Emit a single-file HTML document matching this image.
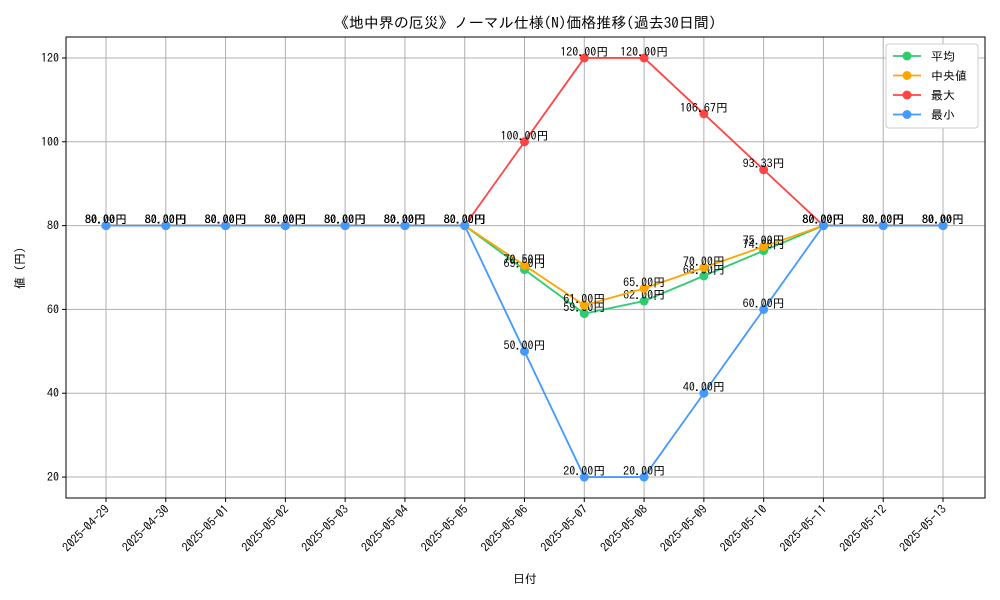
<!DOCTYPE html>
<html><head><meta charset="utf-8"><style>
body{margin:0;background:#fff}
svg{display:block;font-family:"IPAGothic","Noto Sans CJK JP",monospace}
</style></head><body>
<svg id="chart" width="1000" height="600">
<text x="525" y="28" text-anchor="middle" font-size="15">《地中界の厄災》ノーマル仕様(N)価格推移(過去30日間)</text>
<g id="grid"></g><g id="axes"></g><g id="series"></g>
<text x="525" y="583" text-anchor="middle" font-size="12">日付</text>
<text x="24" y="268" text-anchor="middle" font-size="12" transform="rotate(-90 24 268)">値 (円)</text>
<g id="legend"></g>
</svg>
<script>
const dates=["2025-04-29","2025-04-30","2025-05-01","2025-05-02","2025-05-03","2025-05-04","2025-05-05","2025-05-06","2025-05-07","2025-05-08","2025-05-09","2025-05-10","2025-05-11","2025-05-12","2025-05-13"];
const avgVals=[80,80,80,80,80,80,80,69.5,59,62,68,74,80,80,80];
const medVals=[80,80,80,80,80,80,80,70.5,61,65,70,75,80,80,80];
const maxVals=[80,80,80,80,80,80,80,100,120,120,106.67,93.33,80,80,80];
const minVals=[80,80,80,80,80,80,80,50,20,20,40,60,80,80,80];
const yTicks=[20,40,60,80,100,120];
const seriesNames=["平均","中央値","最大","最小"];
const NS="http://www.w3.org/2000/svg";
const L=66,R=985,T=37,B=498;
const X=i=>106+(943-106)*i/(dates.length-1);
const Y=v=>B-(v-15)/(125-15)*(B-T);
function mk(p,t,a){const e=document.createElementNS(NS,t);for(const k in a)e.setAttribute(k,a[k]);p.appendChild(e);return e;}
const grid=document.getElementById('grid'),axes=document.getElementById('axes'),ser=document.getElementById('series'),leg=document.getElementById('legend');
dates.forEach((d,i)=>{
  const g=mk(grid,'line',{x1:X(i),x2:X(i),y1:T,y2:B,stroke:'#b0b0b0','stroke-width':1});
  
  
  mk(axes,'line',{x1:X(i),x2:X(i),y1:B,y2:B+4,stroke:'#000'});
  const t=mk(axes,'text',{x:X(i)+4,y:B+12,'font-size':12,'text-anchor':'end',transform:`rotate(-45 ${X(i)+4} ${B+12})`});
  t.textContent=d;
  
  
});
yTicks.forEach(v=>{
  const g=mk(grid,'line',{x1:L,x2:R,y1:Y(v),y2:Y(v),stroke:'#b0b0b0','stroke-width':1});
  
  
  mk(axes,'line',{x1:L-4,x2:L,y1:Y(v),y2:Y(v),stroke:'#000'});
  const t=mk(axes,'text',{x:L-7,y:Y(v)+4,'font-size':12,'text-anchor':'end'});
  t.textContent=v;
  
  
});
const fr=mk(axes,'rect',{x:L,y:T,width:R-L,height:B-T,fill:'none',stroke:'#000','stroke-width':1});


const all=[avgVals,medVals,maxVals,minVals];
const colors=['#2ecc71','#ffa500','#ff4444','#4499ff'];
const keys=['avg','median','max','min'];
all.forEach((vals,s)=>{
  const g=mk(ser,'g',{});
  
  
  const pl=mk(g,'polyline',{points:vals.map((v,i)=>X(i)+','+Y(v)).join(' '),fill:'none',stroke:colors[s],'stroke-width':1.8});
  
  
  vals.forEach((v,i)=>{
    const c=mk(g,'circle',{cx:X(i),cy:Y(v),r:4.5,fill:colors[s]});
    
    
    const t=mk(g,'text',{x:X(i),y:Y(v)-2,'font-size':12,'text-anchor':'middle'});
    t.textContent=v.toFixed(2)+'円';
    
    
  });
});
const lb=mk(leg,'rect',{x:886,y:44,width:92,height:84,fill:'#fff',stroke:'#ccc',rx:3});


seriesNames.forEach((n,s)=>{
  const y=56+s*19.5;
  const e=mk(leg,'g',{});
  
  
  mk(e,'line',{x1:893,x2:921,y1:y,y2:y,stroke:colors[s],'stroke-width':1.8});
  mk(e,'circle',{cx:907,cy:y,r:4.5,fill:colors[s]});
  const t=mk(e,'text',{x:931,y:y+4.5,'font-size':12});
  t.textContent=n;
});
</script>
</body></html>
